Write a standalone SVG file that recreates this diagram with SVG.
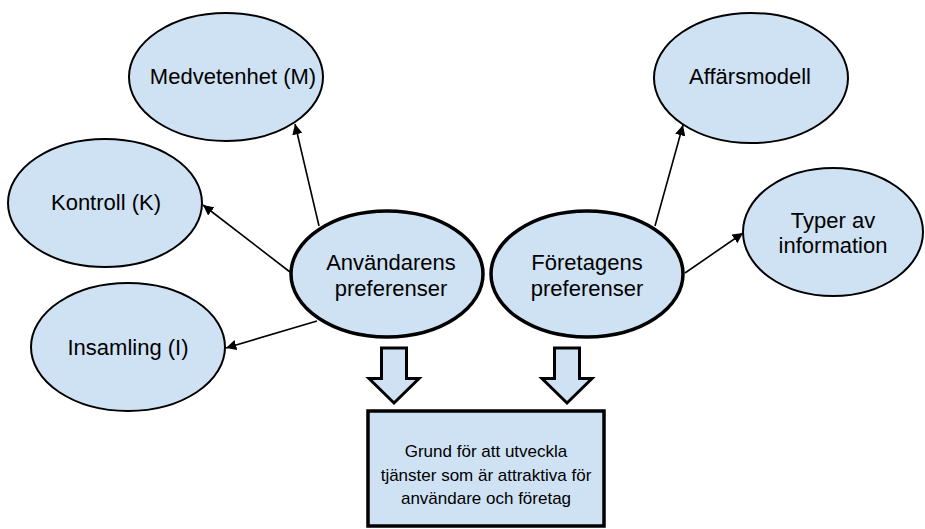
<svg xmlns="http://www.w3.org/2000/svg" width="925" height="529" viewBox="0 0 925 529">
<style>
.node{fill:#cfe2f3;stroke:#000;stroke-width:2}
.main{fill:#cfe2f3;stroke:#000;stroke-width:3.5}
.lbl{font-family:"Liberation Sans",Arial,sans-serif;font-size:22px;fill:#000;text-anchor:middle}
.small{font-family:"Liberation Sans",Arial,sans-serif;font-size:17px;fill:#000;text-anchor:middle}
.conn{stroke:#000;stroke-width:1.6;fill:none;marker-end:url(#ah)}
.block{fill:#cfe2f3;stroke:#000;stroke-width:3;stroke-linejoin:miter}
</style>
<defs>
<marker id="ah" viewBox="0 0 10 10" refX="10" refY="5" markerWidth="6.5" markerHeight="6.5" orient="auto" markerUnits="strokeWidth">
<path d="M0,0 L10,5 L0,10 z" fill="#000"/>
</marker>
</defs>
<g id="medvetenhet">
<ellipse class="node" cx="226" cy="77" rx="97" ry="64"/>
<text class="lbl" x="233" y="84">Medvetenhet (M)</text>
</g>
<g id="kontroll">
<ellipse class="node" cx="105" cy="203" rx="97" ry="64"/>
<text class="lbl" x="106" y="210">Kontroll (K)</text>
</g>
<g id="insamling">
<ellipse class="node" cx="128" cy="347" rx="97" ry="64"/>
<text class="lbl" x="128" y="355">Insamling (I)</text>
</g>
<g id="affarsmodell">
<ellipse class="node" cx="751" cy="78" rx="97" ry="65"/>
<text class="lbl" x="750" y="84">Affärsmodell</text>
</g>
<g id="typer">
<ellipse class="node" cx="833" cy="232" rx="90" ry="64"/>
<text class="lbl" x="833" y="228">Typer av</text>
<text class="lbl" x="833" y="253">information</text>
</g>
<g id="anvandarens">
<ellipse class="main" cx="387" cy="274" rx="96" ry="63"/>
<text class="lbl" x="391" y="270">Användarens</text>
<text class="lbl" x="391" y="296">preferenser</text>
</g>
<g id="foretagens">
<ellipse class="main" cx="587" cy="274" rx="96" ry="63"/>
<text class="lbl" x="587" y="270">Företagens</text>
<text class="lbl" x="587" y="296">preferenser</text>
</g>
<g id="grund">
<rect x="368" y="411" width="236" height="115" fill="#cfe2f3" stroke="#000" stroke-width="3.5"/>
<text class="small" x="486" y="457">Grund för att utveckla</text>
<text class="small" x="486" y="480.5">tjänster som är attraktiva för</text>
<text class="small" x="486" y="504">användare och företag</text>
</g>
<g id="connectors">
<line class="conn" x1="319" y1="226" x2="295" y2="124"/>
<line class="conn" x1="290" y1="272" x2="203" y2="205"/>
<line class="conn" x1="317" y1="321" x2="226" y2="348"/>
<line class="conn" x1="655" y1="226" x2="683" y2="125"/>
<line class="conn" x1="685" y1="273" x2="743" y2="233"/>
<path class="block" d="M381.5,348 L406.5,348 L406.5,378.5 L419,378.5 L394,403 L369,378.5 L381.5,378.5 Z"/>
<path class="block" d="M554.5,348 L579.5,348 L579.5,378.5 L592,378.5 L567,403 L542,378.5 L554.5,378.5 Z"/>
</g>
</svg>
